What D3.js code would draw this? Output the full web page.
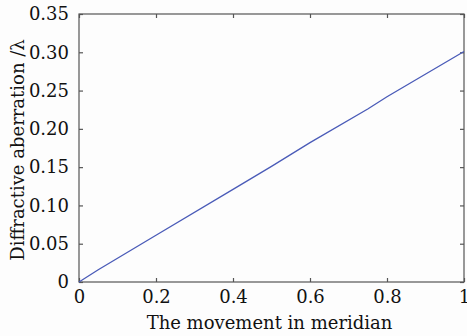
<!DOCTYPE html>
<html>
<head>
<meta charset="utf-8">
<script src="https://cdn.jsdelivr.net/npm/d3@7"></script>
<style>
body { margin: 0; background: #fdfdfd; }
</style>
</head>
<body>
<svg width="467" height="336"></svg>
<script>
// data
var movement = [0, 0.05, 0.2, 0.4, 0.5, 0.6, 0.75, 0.8, 1.0];
var aberration = [0, 0.016, 0.061, 0.121, 0.151, 0.182, 0.226, 0.242, 0.301];
var xTicks = [0, 0.2, 0.4, 0.6, 0.8, 1];
var xTickLabels = ["0", "0.2", "0.4", "0.6", "0.8", "1"];
var yTicks = [0, 0.05, 0.10, 0.15, 0.20, 0.25, 0.30, 0.35];
var yTickLabels = ["0", "0.05", "0.10", "0.15", "0.20", "0.25", "0.30", "0.35"];

var svg = d3.select("svg");
var mLeft = 79, mRight = 464, mTop = 14, mBottom = 282;
var fontName = "DejaVu Serif";

var x = d3.scaleLinear().domain([0, 1]).range([mLeft, mRight]);
var y = d3.scaleLinear().domain([0, 0.35]).range([mBottom, mTop]);

var axisColor = "#555";

// frame
svg.append("rect")
    .attr("x", mLeft).attr("y", mTop)
    .attr("width", mRight - mLeft).attr("height", mBottom - mTop)
    .attr("fill", "none")
    .attr("stroke", axisColor)
    .attr("stroke-width", 1.2);

// inward ticks, all four sides
var xb = svg.append("g").attr("transform", "translate(0," + mBottom + ")")
    .call(d3.axisBottom(x).tickValues(xTicks).tickSize(-4).tickFormat(function (d, i) { return xTickLabels[i]; }).tickPadding(8));
var xt = svg.append("g").attr("transform", "translate(0," + mTop + ")")
    .call(d3.axisTop(x).tickValues(xTicks).tickSize(-4).tickFormat(""));
var yl = svg.append("g").attr("transform", "translate(" + mLeft + ",0)")
    .call(d3.axisLeft(y).tickValues(yTicks).tickSize(-4).tickFormat(function (d, i) { return yTickLabels[i]; }).tickPadding(10));
var yr = svg.append("g").attr("transform", "translate(" + mRight + ",0)")
    .call(d3.axisRight(y).tickValues(yTicks).tickSize(-4).tickFormat(""));

[xb, xt, yl, yr].forEach(function (g) {
    g.attr("font-family", fontName).attr("font-size", 18);
    g.select(".domain").remove();
    g.selectAll(".tick line").attr("stroke", axisColor).attr("stroke-width", 1.2);
    g.selectAll(".tick text").attr("fill", "#111");
});

// the curve
var line = d3.line()
    .x(function (d, i) { return x(movement[i]); })
    .y(function (d) { return y(d); });

svg.append("path")
    .attr("d", line(aberration))
    .attr("fill", "none")
    .attr("stroke", "#4a5bb8")
    .attr("stroke-width", 1.3);

// axis titles
svg.append("text")
    .attr("x", (mLeft + mRight) / 2 - 2)
    .attr("y", 329)
    .attr("text-anchor", "middle")
    .attr("font-family", fontName)
    .attr("font-size", 18)
    .attr("fill", "#111")
    .text("The movement in meridian");

svg.append("text")
    .attr("transform", "translate(24," + ((mTop + mBottom) / 2 + 2) + ") rotate(-90)")
    .attr("text-anchor", "middle")
    .attr("font-family", fontName)
    .attr("font-size", 18)
    .attr("fill", "#111")
    .text("Diffractive aberration /λ");
</script>
</body>
</html>
